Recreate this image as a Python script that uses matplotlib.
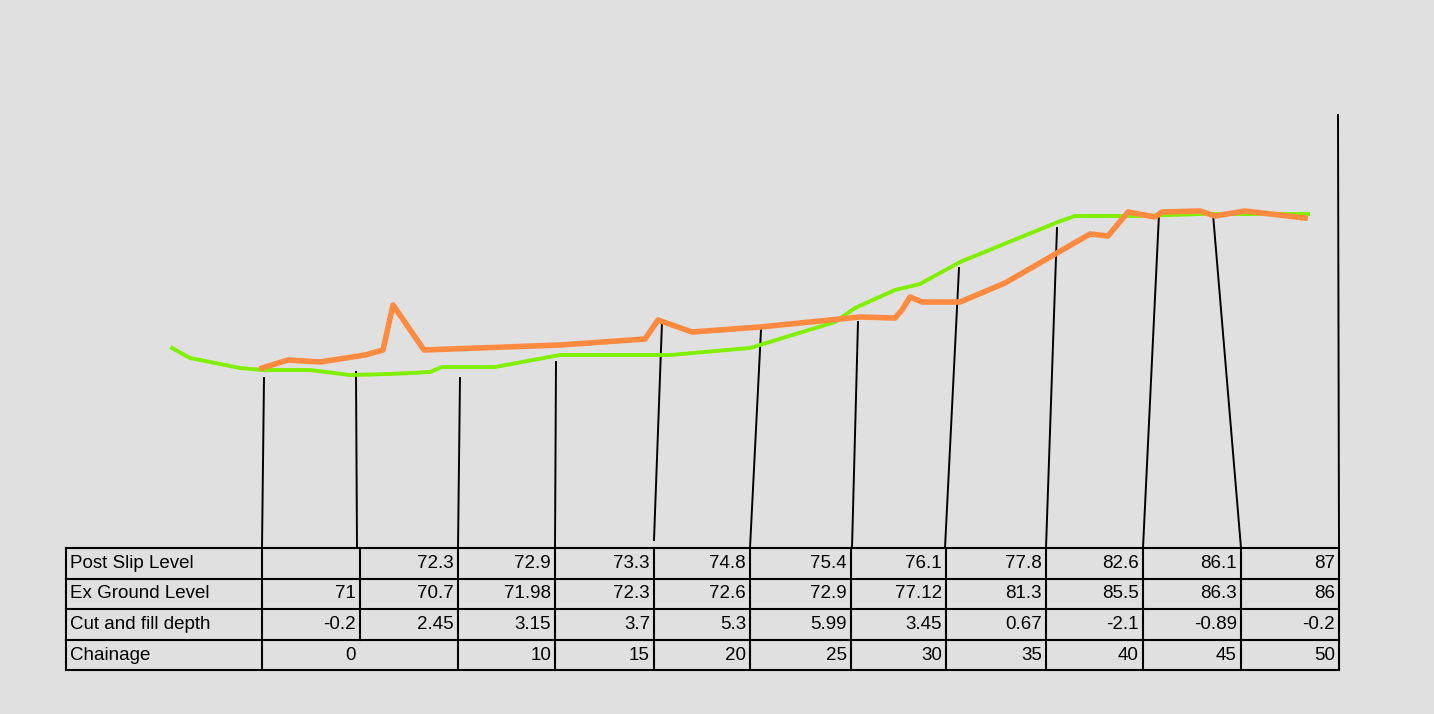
import matplotlib
matplotlib.use("Agg")
import matplotlib.pyplot as plt

plt.rcParams['font.family'] = ['Liberation Sans', 'DejaVu Sans']

# Profile lines (horizontal position, vertical position in the drawing's own units; y grows downward)
green_x = [172,190,240,262,310,350,390,430,442,495,560,670,750,835,855,895,920,960,1058,1075,1140,1200,1308]
green_y = [348,358,368,370,370,375,374,372,367,367,355,355,348,322,308,290,284,262,222,216,216,214,214]
orange_x = [262,288,320,365,383,393,424,560,645,658,692,760,860,895,902,910,922,960,1005,1090,1108,1128,1155,1162,1200,1215,1245,1305]
orange_y = [368,360,362,355,350,305,350,345,339,320,332,327,317,318,310,297,302,302,283,234,236,212,217,212,211,216,211,218]

# Leader lines: (top x, top y, bottom x)
leader_top_x = [264,356,460,556,662,761,858,959,1057,1159,1213,1338]
leader_top_y = [378,372,378,362,322,330,322,268,228,214,214,115]
leader_bot_x = [262,357,458,555,654,750,852,945,1046,1143,1241,1339]
leader_bot_y = [548,548,548,548,540,548,548,548,548,548,548,548]

row_labels = ["Post Slip Level", "Ex Ground Level", "Cut and fill depth", "Chainage"]
post_slip = ["", "72.3", "72.9", "73.3", "74.8", "75.4", "76.1", "77.8", "82.6", "86.1", "87"]
ex_ground = ["71", "70.7", "71.98", "72.3", "72.6", "72.9", "77.12", "81.3", "85.5", "86.3", "86"]
cut_fill = ["-0.2", "2.45", "3.15", "3.7", "5.3", "5.99", "3.45", "0.67", "-2.1", "-0.89", "-0.2"]
chainage = ["0", "", "10", "15", "20", "25", "30", "35", "40", "45", "50"]
rows = [post_slip, ex_ground, cut_fill, chainage]

col_edges = [66, 262, 360, 458, 555, 654, 750, 851, 946, 1046, 1143, 1241, 1339]
row_edges = [548, 579, 609, 640, 670]

fig = plt.figure(figsize=(14.34, 7.14), dpi=100)
fig.patch.set_facecolor('#e0e0e0')
ax = fig.add_axes([0, 0, 1, 1])
ax.set_xlim(0, 1434)
ax.set_ylim(714, 0)
ax.axis('off')

for tx, ty, bx, by in zip(leader_top_x, leader_top_y, leader_bot_x, leader_bot_y):
    ax.plot([tx, bx], [ty, by], color='black', lw=1.4, zorder=1)

ax.plot(green_x, green_y, color='#80f000', lw=2.8, zorder=2)
ax.plot(orange_x, orange_y, color='#ff8a40', lw=4, zorder=3)

# table
for y in row_edges:
    ax.plot([col_edges[0], col_edges[-1]], [y, y], color='black', lw=1.5)
for i, x in enumerate(col_edges):
    for r in range(4):
        if r == 3 and x == 360:
            continue
        ax.plot([x, x], [row_edges[r], row_edges[r + 1]], color='black', lw=1.5)
for r in range(4):
    yc = (row_edges[r] + row_edges[r + 1]) / 2
    ax.text(col_edges[0] + 4, yc, row_labels[r], fontsize=13.5, va='center', ha='left')
    for c, val in enumerate(rows[r]):
        ax.text(col_edges[c + 2] - 4, yc, val, fontsize=13.5, va='center', ha='right')

fig.savefig('out.png', dpi=100, facecolor=fig.get_facecolor())
